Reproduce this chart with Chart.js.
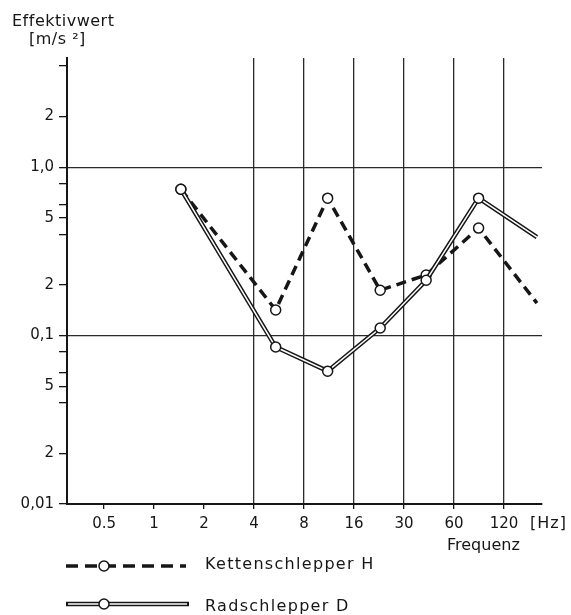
<!DOCTYPE html>
<html>
<head>
<meta charset="utf-8">
<script src="https://cdn.jsdelivr.net/npm/chart.js@4"></script>
<style>
  body { margin: 0; background: #fff; }
  canvas { display: block; }
</style>
</head>
<body>
<canvas id="chart" width="571" height="615"></canvas>
<script>
// Frequency positions of the measured points (Hz)
const freqs = [1.45, 5.4, 11.1, 23, 43.5, 90, 202];
// Effektivwert in m/s2
const kettenschlepper = [0.74, 0.142, 0.655, 0.186, 0.229, 0.435, 0.156];
const radschlepper = [0.74, 0.0855, 0.0615, 0.111, 0.213, 0.655, 0.384];
// last point is where the line leaves the plot, no marker there
const markerRadius = [5, 5, 5, 5, 5, 5, 0];

const xTickValues = [0.5, 1, 2, 4, 8, 16, 32, 64, 128];
const xTickLabels = ["0.5", "1", "2", "4", "8", "16", "30", "60", "120"];
const yTickValues = [0.01, 0.02, 0.04, 0.05, 0.06, 0.08, 0.1, 0.2, 0.4, 0.5, 0.6, 0.8, 1, 2, 4];
const yTickLabels = ["0,01", "2", "", "5", "", "", "0,1", "2", "", "5", "", "", "1,0", "2", ""];

const INK = "#161616";
const FONT = "DejaVu Sans";

function points(ys) {
  return freqs.map(function (f, i) {
    return { x: f, y: ys[i] };
  });
}

// white page behind the canvas
const whiteBg = {
  id: "whiteBg",
  beforeDraw: function (chart) {
    const c = chart.ctx;
    c.save();
    c.fillStyle = "#fff";
    c.fillRect(0, 0, chart.width, chart.height);
    c.restore();
  },
};

// axis titles and the legend at the bottom
const extras = {
  id: "extras",
  afterDraw: function (chart) {
    const c = chart.ctx;
    c.save();
    c.fillStyle = INK;
    c.strokeStyle = INK;
    c.textBaseline = "middle";
    c.font = "16px " + FONT;
    c.letterSpacing = "0.5px";
    c.fillText("Effektivwert", 12, 22);
    c.fillText("[m/s \u00b2]", 29, 40);
    c.letterSpacing = "1px";
    c.fillText("[Hz]", 530, 524);
    c.letterSpacing = "0px";
    c.fillText("Frequenz", 447, 546);

    // legend: dashed
    c.lineWidth = 3.5;
    c.setLineDash([12, 7]);
    c.beginPath();
    c.moveTo(66, 566);
    c.lineTo(186, 566);
    c.stroke();
    c.setLineDash([]);
    drawMarker(c, 104, 566);

    // legend: double line
    c.lineWidth = 4.5;
    c.beginPath();
    c.moveTo(66, 604);
    c.lineTo(189, 604);
    c.stroke();
    c.strokeStyle = "#fff";
    c.lineWidth = 1.5;
    c.beginPath();
    c.moveTo(68, 604);
    c.lineTo(187, 604);
    c.stroke();
    c.strokeStyle = INK;
    drawMarker(c, 104, 604);

    c.font = "16px " + FONT;
    c.letterSpacing = "1.3px";
    c.fillText("Kettenschlepper H", 205, 565);
    c.fillText("Radschlepper D", 205, 607);
    c.restore();
  },
};

function drawMarker(c, x, y) {
  c.beginPath();
  c.arc(x, y, 5, 0, Math.PI * 2);
  c.fillStyle = "#fff";
  c.fill();
  c.lineWidth = 1.5;
  c.strokeStyle = INK;
  c.stroke();
  c.fillStyle = INK;
}

new Chart(document.getElementById("chart"), {
  type: "line",
  data: {
    datasets: [
      {
        label: "Kettenschlepper H",
        data: points(kettenschlepper),
        borderColor: INK,
        borderWidth: 3.5,
        borderDash: [10, 6],
        pointRadius: markerRadius,
        pointBackgroundColor: "#fff",
        pointBorderColor: INK,
        pointBorderWidth: 1.5,
        tension: 0,
        order: 3,
      },
      {
        label: "Radschlepper D outer",
        data: points(radschlepper),
        borderColor: INK,
        borderWidth: 4.5,
        pointRadius: 0,
        tension: 0,
        order: 2,
      },
      {
        label: "Radschlepper D",
        data: points(radschlepper),
        borderColor: "#fff",
        borderWidth: 1.5,
        pointRadius: markerRadius,
        pointBackgroundColor: "#fff",
        pointBorderColor: INK,
        pointBorderWidth: 1.5,
        tension: 0,
        order: 1,
      },
    ],
  },
  options: {
    responsive: false,
    animation: false,
    layout: { padding: { left: 0, top: 58, right: 29, bottom: 0 } },
    plugins: {
      legend: { display: false },
      tooltip: { enabled: false },
    },
    scales: {
      x: {
        type: "logarithmic",
        min: 0.299,
        max: 216.8,
        afterBuildTicks: function (scale) {
          scale.ticks = xTickValues.map(function (v) { return { value: v }; });
        },
        afterFit: function (scale) { scale.height = 111; },
        ticks: {
          autoSkip: false,
          maxRotation: 0,
          padding: 6,
          color: INK,
          font: { family: FONT, size: 15 },
          callback: function (value, index) { return xTickLabels[index]; },
        },
        grid: {
          color: function (ctx) {
            return ctx.tick && ctx.tick.value >= 4 ? "#2a2a2a" : "rgba(0,0,0,0)";
          },
          lineWidth: 1.3,
          tickColor: INK,
          tickLength: 5,
        },
        border: { display: true, color: INK, width: 2 },
      },
      y: {
        type: "logarithmic",
        min: 0.01,
        max: 4.45,
        afterBuildTicks: function (scale) {
          scale.ticks = yTickValues.map(function (v) { return { value: v }; });
        },
        afterFit: function (scale) { scale.width = 67; },
        ticks: {
          autoSkip: false,
          padding: 5,
          color: INK,
          font: { family: FONT, size: 15 },
          callback: function (value, index) { return yTickLabels[index]; },
        },
        grid: {
          color: function (ctx) {
            if (!ctx.tick) return "rgba(0,0,0,0)";
            const v = ctx.tick.value;
            return v === 1 || v === 0.1 ? "#2a2a2a" : "rgba(0,0,0,0)";
          },
          lineWidth: 1.3,
          tickColor: INK,
          tickLength: 8,
        },
        border: { display: true, color: INK, width: 2 },
      },
    },
  },
  plugins: [whiteBg, extras],
});
</script>
</body>
</html>
